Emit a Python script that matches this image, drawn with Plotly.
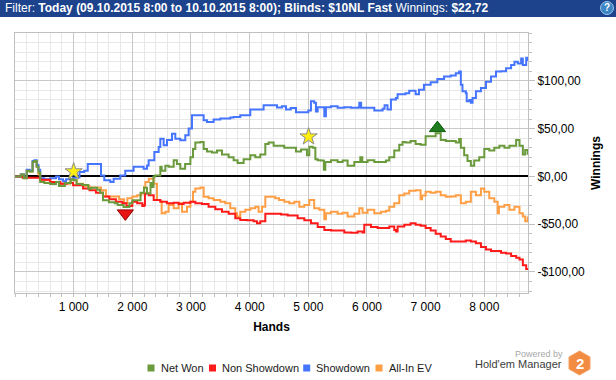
import plotly.graph_objects as go

# ---------------- data ----------------
net_won_hands = [0, 100, 150, 200, 250, 300, 330, 370, 400, 430, 500, 600, 700, 750, 850, 950, 1000, 1050,
                 1150, 1250, 1300, 1400, 1450, 1500, 1600, 1700, 1750, 1850, 1950, 2000, 2140, 2200, 2250,
                 2310, 2340, 2360, 2390, 2477, 2500, 2563, 2620, 2705, 2760, 2818, 2900, 2990, 3034, 3074,
                 3160, 3216, 3273, 3358, 3443, 3528, 3642, 3727, 3795, 3897, 4011, 4096, 4181, 4267, 4323,
                 4409, 4477, 4590, 4705, 4790, 4875, 4977, 5017, 5074, 5120, 5160, 5216, 5265, 5290, 5386,
                 5500, 5585, 5670, 5784, 5886, 5920, 6011, 6125, 6238, 6323, 6380, 6465, 6550, 6607, 6657,
                 6743, 6829, 6914, 7000, 7086, 7171, 7257, 7343, 7428, 7514, 7571, 7600, 7657, 7714, 7771,
                 7828, 7914, 8000, 8085, 8171, 8257, 8343, 8428, 8543, 8600, 8657, 8697, 8740]
net_won = [0, 2, -2, 6, 5, 15, 16, 10, 4, -6, -7, -8, -6, -10, -7, -3, -4, -8,
           -9, -13, -12, -14, -17, -25, -27, -28, -30, -32, -28, -25, -17, -12, -18,
           -7, -11, 0, 1, 10, 6, 11, 10, 17, 13, 8, 13, 20, 28.6, 35.5,
           36, 28.6, 26, 25, 27, 23, 20, 17, 14, 18, 22, 20, 23, 34, 35.5,
           32, 32, 30, 30, 26, 28, 22, 31, 30, 18, 17, 16.5, 7, 15, 17,
           15, 16.5, 11, 15, 20, 15, 17, 15, 15, 16.5, 20, 27, 33, 36, 35.5,
           37, 34, 33, 42, 42, 45, 38, 37, 37, 35.5, 39, 30, 22, 16, 11,
           16.5, 20, 28.6, 27, 30, 32, 30, 32, 38, 32, 23, 27.6, 22.72]

showdown_hands = [0, 100, 150, 200, 250, 300, 330, 370, 400, 430, 500, 600, 700, 750, 820, 870, 990, 1050,
                  1100, 1180, 1240, 1410, 1466, 1522, 1625, 1681, 1795, 1880, 2022, 2136, 2193, 2250, 2278,
                  2352, 2375, 2449, 2477, 2534, 2591, 2676, 2733, 2818, 2903, 2960, 3017, 3159, 3216, 3273,
                  3386, 3500, 3670, 3727, 3840, 4011, 4125, 4238, 4409, 4466, 4550, 4620, 4700, 4790, 4960,
                  5000, 5045, 5100, 5130, 5160, 5240, 5273, 5300, 5386, 5500, 5613, 5727, 5850, 5869, 5900,
                  6068, 6125, 6267, 6300, 6350, 6408, 6494, 6522, 6572, 6657, 6720, 6829, 6886, 6971, 7086,
                  7200, 7314, 7428, 7514, 7571, 7600, 7628, 7685, 7700, 7743, 7771, 7800, 7857, 7943, 8028,
                  8114, 8200, 8285, 8371, 8457, 8514, 8571, 8628, 8657, 8714, 8740]
showdown = [0, 2, -1, 7, 6, 16, 17, 12, 7, -2, -3, -2, 0, -3, -5, -3, -1.4, -1,
            4.5, 6, 13, 13, 1, -4, -6, -2.4, 1, 6, 10, 10, 8, 11.5, 16.8,
            16.8, 25.5, 30.8, 39.5, 32.5, 38, 44.7, 39.5, 37.7, 43, 50, 64, 64, 58.7, 57,
            59.4, 60.5, 61.5, 62, 64, 70, 70, 74.5, 74.5, 72, 73.4, 70, 71.5, 67, 67,
            69, 78.6, 77, 68, 72.4, 72.4, 63, 72.4, 73.4, 71.7, 72.4, 71.7, 72, 77, 71.7,
            71.7, 69, 70.7, 74.5, 70, 80.3, 82, 86, 86, 87, 89.7, 86, 90.7, 95.9, 98.6,
            102, 104.5, 105.5, 108, 109.7, 95.9, 89, 87, 78.6, 80, 77, 82, 89, 92.4, 99,
            104.5, 109.7, 110, 113, 116.6, 120, 118, 123.4, 116.6, 124, 120.7]

non_showdown_hands = [0, 130, 300, 430, 600, 770, 880, 990, 1160, 1270, 1380, 1500, 1607, 1720, 1830, 1900,
                      2000, 2083, 2170, 2205, 2215, 2280, 2364, 2477, 2590, 2705, 2790, 2875, 2990, 3075,
                      3187, 3300, 3415, 3528, 3642, 3755, 3840, 3954, 4068, 4125, 4181, 4260, 4267, 4380,
                      4534, 4648, 4818, 4932, 5045, 5160, 5273, 5386, 5500, 5613, 5727, 5840, 5925, 5954,
                      6068, 6182, 6295, 6380, 6465, 6494, 6522, 6636, 6743, 6829, 6914, 7000, 7086, 7171,
                      7257, 7343, 7428, 7514, 7600, 7685, 7771, 7857, 7943, 8028, 8114, 8200, 8285, 8371,
                      8457, 8543, 8600, 8657, 8714, 8740]
non_showdown = [0, -1.4, -1.4, -3.4, -6, -7.6, -7, -9.3, -12.8, -14.5, -17, -21, -24, -26.6, -28, -31,
                -26.6, -28, -31, -30, -18, -19.7, -24.8, -26.6, -28, -27.6, -29, -27.6, -26.6, -28,
                -29, -31.7, -34.5, -37, -39, -43.8, -45.5, -46, -47, -49, -47, -47, -39, -39,
                -40, -41, -43.8, -46, -49, -53, -56, -56.6, -56.6, -58.6, -59, -57.6, -58.6, -50.7,
                -53, -54, -54, -52.4, -56, -57.6, -52.4, -50.7, -49, -50.7, -51.7, -54, -56.6, -60,
                -62.8, -65.5, -68, -68, -68, -67, -68, -70, -73.8, -76.6, -78, -78, -80, -80.7,
                -83.4, -85, -87, -93, -97, -98]

allin_ev_hands = [0, 100, 150, 200, 250, 300, 330, 370, 400, 430, 600, 770, 940, 1050, 1160, 1270, 1380,
                  1466, 1550, 1663, 1775, 1860, 1915, 2000, 2083, 2150, 2200, 2222, 2280, 2364, 2420, 2477,
                  2500, 2563, 2620, 2705, 2790, 2847, 2932, 2990, 3034, 3074, 3160, 3216, 3300, 3386, 3500,
                  3585, 3670, 3755, 3784, 3840, 3926, 4011, 4096, 4153, 4210, 4267, 4352, 4436, 4500, 4590,
                  4676, 4761, 4847, 4932, 5017, 5074, 5100, 5187, 5273, 5300, 5386, 5500, 5585, 5670, 5784,
                  5869, 5925, 6011, 6125, 6238, 6323, 6380, 6465, 6550, 6636, 6720, 6829, 6914, 6940, 7000,
                  7086, 7171, 7257, 7343, 7428, 7514, 7600, 7685, 7771, 7857, 7943, 8000, 8085, 8171, 8228,
                  8250, 8343, 8428, 8514, 8600, 8657, 8697, 8740]
allin_ev = [0, 2, -2, 6, 5, 15, 16, 10, 2, -4, -6, -7.6, -4, -7.6, -10, -11.7, -11.7,
            -14.5, -21, -21, -24, -28, -23, -21, -19.7, -18, -11, -5.9, -2.4, -7.6, -24.8, -26,
            -38.6, -37, -30, -33.4, -28, -37, -31.7, -26.6, -16, -12.8, -11.7, -21.4, -23, -24.8, -26.6,
            -28, -33.4, -38.6, -42, -37, -35, -33.4, -31.7, -37, -31.7, -21.4, -21.4, -23, -24.8, -26.6,
            -28, -26.6, -31.7, -30, -24.8, -24.8, -33.4, -35, -44.8, -38.6, -37, -39, -38, -42, -39,
            -33.4, -38, -35, -38.6, -37, -36, -31.7, -28, -19.7, -18, -15, -14.5, -24, -20, -16,
            -17, -16, -19.7, -21.4, -21, -19.7, -28, -26.6, -16, -19.7, -12.8, -16, -23, -26.6, -38.6,
            -31.7, -30, -35, -31.7, -38.6, -42, -47, -42]

star_hands = [1000, 5004]
star_values = [5, 41.5]
low_hands = [1881]
low_values = [-38.7]
high_hands = [7201]
high_values = [50.5]

x_tick_vals = [1000, 2000, 3000, 4000, 5000, 6000, 7000, 8000]
x_tick_text = ["1 000", "2 000", "3 000", "4 000", "5 000", "6 000", "7 000", "8 000"]
y_tick_vals = [-100, -50, 0, 50, 100]
y_tick_text = ["-$100,00", "-$50,00", "$0,00", "$50,00", "$100,00"]

series_names = ["Net Won", "Non Showdown", "Showdown", "All-In EV"]
series_colors = ["#6a9a3c", "#ff1a1a", "#4574ff", "#ff9f45"]

# ---------------- layout helpers ----------------
W, H = 616, 380
L, R, T, B = 15, 528, 33, 293


def pxx(x):
    return (x - L) / (R - L)


def pxy(y):
    return (B - y) / (B - T)


FONT = "Liberation Sans, Arial, sans-serif"

fig = go.Figure()

traces = [
    ("All-In EV", allin_ev_hands, allin_ev, series_colors[3]),
    ("Showdown", showdown_hands, showdown, series_colors[2]),
    ("Non Showdown", non_showdown_hands, non_showdown, series_colors[1]),
    ("Net Won", net_won_hands, net_won, series_colors[0]),
]
for name, hx, vals, col in traces:
    fig.add_trace(go.Scatter(x=hx, y=vals, mode="lines", name=name,
                             line=dict(color=col, width=2, shape="hv"), showlegend=False,
                             hoverinfo="x+y"))

fig.add_trace(go.Scatter(x=star_hands, y=star_values, mode="markers", showlegend=False,
                         marker=dict(symbol="star", size=13, color="#ffee10",
                                     line=dict(color="#8a8a8a", width=1))))
fig.add_trace(go.Scatter(x=low_hands, y=low_values, mode="markers", showlegend=False,
                         marker=dict(symbol="triangle-down", size=14, color="#e81414",
                                     line=dict(color="#9a0000", width=1))))
fig.add_trace(go.Scatter(x=high_hands, y=high_values, mode="markers", showlegend=False,
                         marker=dict(symbol="triangle-up", size=14, color="#1e7b1e",
                                     line=dict(color="#0c5a0c", width=1))))

shapes = []
annotations = []

# header bar
shapes.append(dict(type="rect", xref="paper", yref="paper", x0=pxx(0), x1=pxx(W), y0=pxy(17), y1=pxy(0),
                   fillcolor="#1c438b", line=dict(width=0), layer="above"))
annotations.append(dict(xref="paper", yref="paper", x=pxx(3), y=pxy(8.5), xanchor="left", yanchor="middle",
                        showarrow=False,
                        text="Filter: <b>Today (09.10.2015 8:00 to 10.10.2015 8:00); Blinds: $10NL Fast</b>"
                             " Winnings: <b>$22,72</b>",
                        font=dict(family="Liberation Sans Narrow, Liberation Sans, sans-serif", size=12,
                                  color="#ffffff")))
# help icon
shapes.append(dict(type="circle", xref="paper", yref="paper", x0=pxx(600.5), x1=pxx(613.5),
                   y0=pxy(14.5), y1=pxy(1.5), fillcolor="#3d86c6", line=dict(color="#9cc4e8", width=1),
                   layer="above"))
annotations.append(dict(xref="paper", yref="paper", x=pxx(607), y=pxy(8), xanchor="center", yanchor="middle",
                        showarrow=False, text="<b>?</b>",
                        font=dict(family=FONT, size=10, color="#ffffff")))

# legend
leg = [(151, series_names[0], series_colors[0]), (212.5, series_names[1], series_colors[1]),
       (306.7, series_names[2], series_colors[2]), (379, series_names[3], series_colors[3])]
for sx, name, col in leg:
    shapes.append(dict(type="rect", xref="paper", yref="paper", x0=pxx(sx - 3.5), x1=pxx(sx + 3.5),
                       y0=pxy(371.5), y1=pxy(364.5), fillcolor=col, line=dict(width=0)))
    annotations.append(dict(xref="paper", yref="paper", x=pxx(sx + 7.5), y=pxy(368.3), xanchor="left",
                            yanchor="middle", showarrow=False, text=name,
                            font=dict(family=FONT, size=11, color="#1a1a1a")))

# powered by logo
annotations.append(dict(xref="paper", yref="paper", x=pxx(565), y=pxy(354), xanchor="right", yanchor="middle",
                        showarrow=False, text="Powered by",
                        font=dict(family=FONT, size=9, color="#a8a8a8")))
annotations.append(dict(xref="paper", yref="paper", x=pxx(563.5), y=pxy(363.5), xanchor="right",
                        yanchor="middle", showarrow=False, text="Hold'em Manager",
                        font=dict(family=FONT, size=11, color="#3c3c3c")))
cx, cy, hw, hh = 579.5, 363, 10.5, 12
hexpath = "M {} {} L {} {} L {} {} L {} {} L {} {} L {} {} Z".format(
    pxx(cx), pxy(cy - hh),
    pxx(cx + hw), pxy(cy - hh / 2),
    pxx(cx + hw), pxy(cy + hh / 2),
    pxx(cx), pxy(cy + hh),
    pxx(cx - hw), pxy(cy + hh / 2),
    pxx(cx - hw), pxy(cy - hh / 2))
shapes.append(dict(type="path", xref="paper", yref="paper", path=hexpath, fillcolor="#f28c42",
                   line=dict(color="#f7a060", width=1)))
annotations.append(dict(xref="paper", yref="paper", x=pxx(cx), y=pxy(cy + 0.5), xanchor="center",
                        yanchor="middle", showarrow=False, text="<b>2</b>",
                        font=dict(family=FONT, size=15, color="#ffffff")))

fig.update_layout(
    width=W, height=H,
    margin=dict(l=L, r=W - R, t=T, b=H - B, pad=0),
    paper_bgcolor="#ffffff", plot_bgcolor="#ffffff",
    font=dict(family=FONT, size=12, color="#000000"),
    showlegend=False,
    shapes=shapes, annotations=annotations,
    xaxis=dict(range=[0, 8745], tickmode="array", tickvals=x_tick_vals, ticktext=x_tick_text,
               ticks="outside", ticklen=3, tickcolor="#c0c0c0",
               showgrid=True, gridcolor="#c8c8c8", gridwidth=1,
               minor=dict(dtick=200, tick0=0, showgrid=True, gridcolor="#e8e8e8", ticks="outside",
                          ticklen=3, tickcolor="#c0c0c0"),
               showline=True, linecolor="#c0c0c0", linewidth=1, mirror=True, zeroline=False,
               tickfont=dict(family=FONT, size=12, color="#000000"),
               title=dict(text="<b>Hands</b>", font=dict(family=FONT, size=12), standoff=9)),
    yaxis=dict(range=[-122, 150], side="right", tickmode="array", tickvals=y_tick_vals,
               ticktext=y_tick_text, ticks="outside", ticklen=6, tickcolor="#c0c0c0",
               showgrid=True, gridcolor="#c8c8c8", gridwidth=1,
               minor=dict(dtick=10, tick0=0, showgrid=True, gridcolor="#e8e8e8", ticks="outside",
                          ticklen=3, tickcolor="#c0c0c0"),
               showline=True, linecolor="#c0c0c0", linewidth=1, mirror=True,
               zeroline=True, zerolinecolor="#000000", zerolinewidth=2,
               tickfont=dict(family=FONT, size=12, color="#000000"),
               title=dict(text="<b>Winnings</b>", font=dict(family=FONT, size=12), standoff=7)),
)

fig.write_html("out.html", config={"displayModeBar": False},
               post_script="document.body.style.margin='0px';document.body.style.overflow='hidden';")
